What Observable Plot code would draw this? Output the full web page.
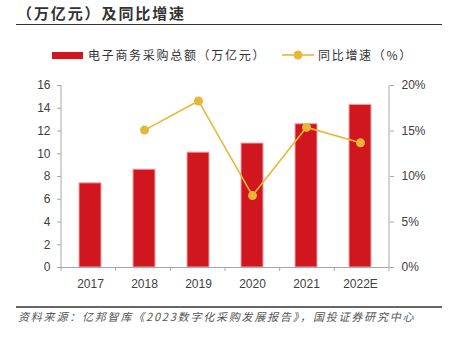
<!DOCTYPE html>
<html><head><meta charset="utf-8">
<script src="https://cdn.jsdelivr.net/npm/d3@7"></script>
<script src="https://cdn.jsdelivr.net/npm/@observablehq/plot@0.6"></script>
<style>
body{margin:0;background:#fff;}
#wrap{position:relative;width:454px;height:342px;overflow:hidden;font-family:"Noto Sans CJK SC",sans-serif;background:#fff;}
#title{position:absolute;left:17px;top:3px;font-size:15px;font-weight:bold;color:#333;letter-spacing:1.9px;line-height:20px;white-space:nowrap;}
#rule1{position:absolute;left:16px;top:24px;width:426px;height:0;border-top:1.5px solid #333;}
.sw{position:absolute;}
.lt{position:absolute;font-size:12px;color:#333;line-height:16px;white-space:nowrap;letter-spacing:1.7px;}
#chart{position:absolute;left:0;top:70px;}
#rule2{position:absolute;left:16px;top:306px;width:426px;height:0;border-top:2px solid #666;}
#caption{position:absolute;left:18px;top:308px;font-size:11px;font-style:italic;color:#555;letter-spacing:1.8px;line-height:16px;white-space:nowrap;}
</style>
</head><body>
<div id="wrap">
  <div id="title">（万亿元）及同比增速</div>
  <div id="rule1"></div>
  <div class="sw" style="left:52px;top:52px;width:31px;height:6.5px;background:#d0161e;"></div>
  <div class="lt" style="left:88px;top:47px;">电子商务采购总额（万亿元）</div>
  <svg class="sw" style="left:280px;top:48px;" width="36" height="14">
    <line x1="2" y1="7" x2="34" y2="7" stroke="#e9b738" stroke-width="1.6"></line>
    <circle cx="18" cy="7" r="4.5" fill="#e9b738"></circle>
  </svg>
  <div class="lt" style="left:318px;top:47px;">同比增速（%）</div>
  <div id="chart"></div>
  <div id="rule2"></div>
  <div id="caption">资料来源：亿邦智库《2023数字化采购发展报告》，国投证券研究中心</div>
</div>
<script>
const years = ["2017","2018","2019","2020","2021","2022E"];
const amount = [7.4, 8.6, 10.1, 10.9, 12.6, 14.3];
const growth = [null, 15.1, 18.3, 7.9, 15.4, 13.7];
const leftTicks = [0, 2, 4, 6, 8, 10, 12, 14, 16];
const rightTicks = [0, 5, 10, 15, 20];

const leftMax = 16, rightMax = 20;
const ratio = leftMax / rightMax;
const barData = years.map((y, i) => ({year: y, amount: amount[i]}));
const lineData = years.map((y, i) => ({year: y, growth: growth[i]})).filter(d => d.growth != null);

const axisColor = "#a6a6a6";
const plot = Plot.plot({
  width: 454, height: 230,
  marginTop: 15, marginBottom: 33, marginLeft: 61, marginRight: 65,
  style: {fontFamily: "'Liberation Sans', Arial, sans-serif", fontSize: "12px", color: "#404040", background: "transparent"},
  x: {domain: years, paddingInner: 0.6, paddingOuter: 0.3, label: null},
  y: {domain: [0, leftMax], label: null},
  marks: [
    Plot.barY(barData, {x: "year", y: "amount", fill: "#d0161e", stroke: "#f2a5a8", strokeWidth: 1}),
    Plot.ruleY([0], {stroke: axisColor, strokeWidth: 1}),
    Plot.line(lineData, {x: "year", y: d => d.growth * ratio, stroke: "#e9b738", strokeWidth: 1.6}),
    Plot.dot(lineData, {x: "year", y: d => d.growth * ratio, r: 4.5, fill: "#e9b738"}),
    Plot.axisY({ticks: leftTicks, tickSize: 4, tickPadding: 7, stroke: axisColor, fill: "#404040", label: null}),
    Plot.axisY({anchor: "right", ticks: rightTicks.map(p => p * ratio), tickSize: 4, tickPadding: 8,
      tickFormat: d => Math.round(d / ratio) + "%", stroke: axisColor, fill: "#404040", label: null}),
    Plot.axisX({tickSize: 0, tickPadding: 12, fill: "#404040", label: null})
  ]
});
document.getElementById("chart").appendChild(plot);

// axis lines and band-boundary ticks derived from the scales
const xs = plot.scale("x"), ys = plot.scale("y");
const [x0, x1] = xs.range, [yb, yt] = ys.range;
const step = (x1 - x0) / years.length;
const svg = d3.select(plot);
const g = svg.append("g").attr("stroke", axisColor).attr("stroke-width", 1);
g.append("line").attr("x1", x0).attr("x2", x0).attr("y1", yt).attr("y2", yb);
g.append("line").attr("x1", x1).attr("x2", x1).attr("y1", yt).attr("y2", yb);
d3.range(years.length + 1).forEach(i => {
  const x = x0 + i * step;
  g.append("line").attr("x1", x).attr("x2", x).attr("y1", yb).attr("y2", yb + 4);
});
</script>
</body></html>
